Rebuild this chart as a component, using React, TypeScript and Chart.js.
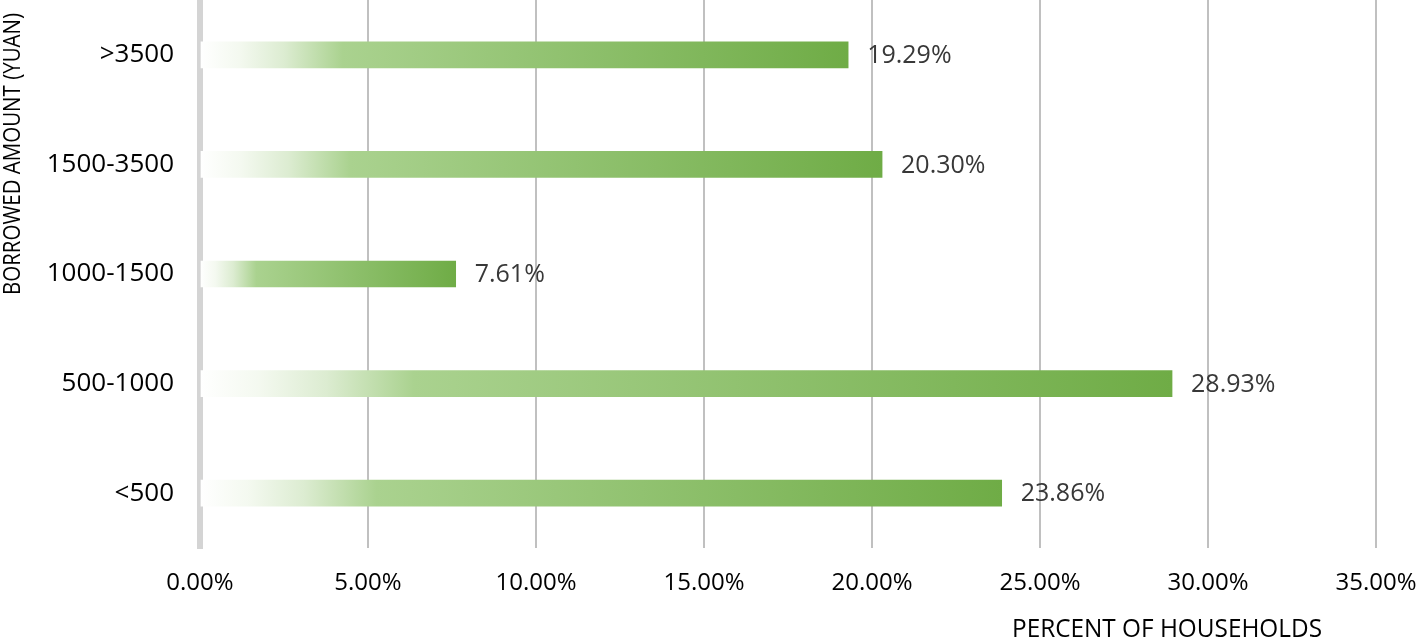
import React, { useEffect, useRef } from "react";
import { Chart, registerables } from "chart.js";

Chart.register(...registerables);

const categories = [">3500", "1500-3500", "1000-1500", "500-1000", "<500"];
const percentValues = [19.29, 20.3, 7.61, 28.93, 23.86];
const xTicks = [0, 5, 10, 15, 20, 25, 30, 35];
const xTitle = "PERCENT OF HOUSEHOLDS";
const yTitle = "BORROWED AMOUNT (YUAN)";

const FONT = "'Open Sans', 'DejaVu Sans', sans-serif";

const labelsPlugin = {
  id: "customLabels",
  afterDraw(chart: any) {
    const ctx = chart.ctx;
    const meta = chart.getDatasetMeta(0);
    ctx.save();
    ctx.font = `25px ${FONT}`;
    ctx.fillStyle = "#383838";
    ctx.textAlign = "left";
    ctx.textBaseline = "middle";
    meta.data.forEach((bar: any, i: number) => {
      ctx.fillText(percentValues[i].toFixed(2) + "%", bar.x + 19, bar.y + 1);
    });
    // axis titles
    ctx.fillStyle = "#000000";
    ctx.font = `26px ${FONT}`;
    ctx.textAlign = "center";
    ctx.fillText(xTitle, 1167, 630, 310);
    ctx.translate(13, 154);
    ctx.rotate(-Math.PI / 2);
    ctx.font = `24px ${FONT}`;
    ctx.fillText(yTitle, 0, 0, 282);
    ctx.restore();
  },
};

export default function App() {
  const ref = useRef<HTMLCanvasElement>(null);
  useEffect(() => {
    document.body.style.margin = "0";
    const canvas = ref.current!;
    const chart = new Chart(canvas, {
      type: "bar",
      data: {
        labels: categories,
        datasets: [
          {
            data: percentValues,
            barThickness: 26,
            borderWidth: 0,
            backgroundColor: (c: any) => {
              const ch = c.chart;
              const area = ch.chartArea;
              if (!area || c.raw == null) return "#70ad47";
              const xs = ch.scales.x;
              const x0 = xs.getPixelForValue(0);
              const x1 = xs.getPixelForValue(c.raw);
              const g = ch.ctx.createLinearGradient(x0, 0, x1, 0);
              g.addColorStop(0, "#ffffff");
              g.addColorStop(0.06, "#f4f9f0");
              g.addColorStop(0.13, "#dcecd1");
              g.addColorStop(0.22, "#aad28f");
              g.addColorStop(1, "#6fac46");
              return g;
            },
          },
        ],
      },
      options: {
        indexAxis: "y",
        animation: false,
        responsive: false,
        maintainAspectRatio: false,
        layout: { padding: { left: 0, right: 41, top: 0, bottom: 0 } },
        plugins: {
          legend: { display: false },
          tooltip: { enabled: false },
          title: { display: false },
        },
        scales: {
          x: {
            type: "linear",
            min: 0,
            max: 35,
            z: 1,
            afterBuildTicks: (s: any) => {
              s.ticks = xTicks.map((v) => ({ value: v }));
            },
            afterFit: (s: any) => {
              s.height = 93;
              s.paddingLeft = 0;
              s.paddingRight = 0;
            },
            grid: {
              drawTicks: false,
              lineWidth: 2,
              color: (c: any) => (c.index === 0 ? "rgba(0,0,0,0)" : "rgba(150,150,150,0.6)"),
            },
            border: { display: false },
            ticks: {
              padding: 21,
              color: "#000000",
              font: { family: FONT, size: 24 },
              maxRotation: 0,
              callback: (v: any) => Number(v).toFixed(2) + "%",
            },
          },
          y: {
            type: "category",
            z: 1,
            afterFit: (s: any) => {
              s.width = 200;
              s.paddingTop = 0;
              s.paddingBottom = 0;
            },
            grid: { display: false, drawTicks: false },
            border: { display: true, color: "#d4d4d4", width: 6 },
            ticks: {
              padding: 26,
              color: "#000000",
              font: { family: FONT, size: 26 },
            },
          },
        },
      },
      plugins: [labelsPlugin],
    } as any);
    return () => chart.destroy();
  }, []);
  return (
    <div style={{ width: 1417, height: 641, position: "relative" }}>
      <canvas ref={ref} width={1417} height={641} style={{ display: "block" }} />
    </div>
  );
}
